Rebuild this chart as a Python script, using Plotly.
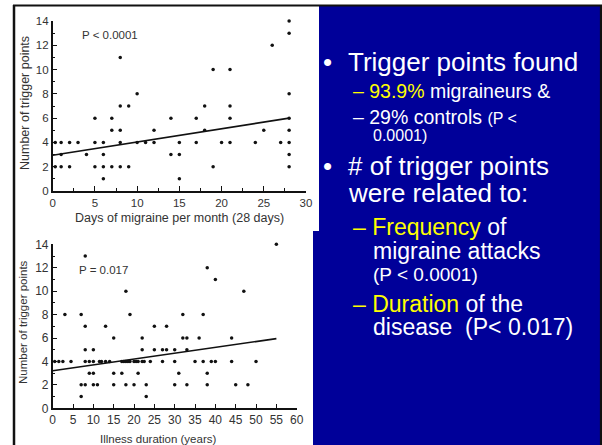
import plotly.graph_objects as go

W, H = 602, 445

# ---------------- data ----------------
# Top chart: days of migraine per month (28 days) vs number of trigger points
days_x = [0.3, 0.3, 1, 1, 1, 2, 2, 3, 4, 5, 5, 5, 6, 6, 6, 6, 7, 7, 7,
          8, 8, 8, 8, 8, 9, 9, 10, 10, 11, 12, 12, 14, 14, 15, 15, 15,
          17, 17, 18, 18, 19, 19, 20, 21, 21, 21, 21, 24, 25, 26, 27,
          28, 28, 28, 28, 28, 28, 28, 28]
days_y = [4, 2, 4, 3, 2, 4, 2, 4, 3, 6, 4, 2, 4, 3, 2, 1, 6, 5, 2,
          11, 7, 5, 4, 2, 7, 2, 8, 4, 4, 5, 4, 6, 3, 4, 3, 1,
          6, 4, 7, 5, 10, 2, 4, 10, 7, 6, 4, 4, 5, 12, 4,
          14, 13, 8, 6, 5, 4, 3, 2]
days_fit_x = [0, 28]
days_fit_y = [2.95, 6.0]

# Bottom chart: illness duration (years) vs number of trigger points
dur_x = [8, 18, 3, 7, 19, 8, 13, 25, 28, 15, 22,
         8, 10, 22, 25, 27, 28, 30, 33,
         0.5, 1.5, 2.5, 4.5, 8, 9, 10, 11.5, 12, 13, 14, 17, 17.5, 18, 18.5,
         19, 20, 20.5, 21, 22, 22.5, 24, 27, 30, 35, 37, 39, 40, 44, 50,
         9, 10, 15, 17, 21, 31, 38,
         7, 8, 10, 11, 15, 18, 20, 23, 30, 33, 38, 45, 48,
         7, 23,
         55, 38, 40, 47, 32, 37, 32, 33, 36, 44]
dur_y = [13, 10, 8, 8, 8, 7, 7, 7, 7, 6, 6,
         5, 5, 5, 5, 5, 5, 5, 5,
         4, 4, 4, 4, 4, 4, 4, 4, 4, 4, 4, 4, 4, 4, 4,
         4, 4, 4, 4, 4, 4, 4, 4, 4, 4, 4, 4, 4, 4, 4,
         3, 3, 3, 3, 3, 3, 3,
         2, 2, 2, 2, 2, 2, 2, 2, 2, 2, 2, 2, 2,
         1, 1,
         14, 12, 11, 10, 8, 8, 6, 6, 6, 6]
dur_fit_x = [0, 55]
dur_fit_y = [3.2, 5.95]

top_xticks = [0, 5, 10, 15, 20, 25, 30]
bot_xticks = [0, 5, 10, 15, 20, 25, 30, 35, 40, 45, 50, 55, 60]
yticks = [0, 2, 4, 6, 8, 10, 12, 14]

# ---------------- helpers ----------------
def fx(x):
    return x / W

def fy(y):
    return 1 - y / H

BLUE = "#000099"
YEL = "#FFFF00"
CHART_FONT = "Liberation Sans, Arial, sans-serif"
TXT = "#333333"

fig = go.Figure()

fig.add_trace(go.Scatter(x=days_x, y=days_y, mode="markers", xaxis="x", yaxis="y",
                         marker=dict(size=3.5, color="#111111"), cliponaxis=False,
                         showlegend=False))
fig.add_trace(go.Scatter(x=days_fit_x, y=days_fit_y, mode="lines", xaxis="x", yaxis="y",
                         line=dict(color="#111111", width=1.6), showlegend=False))
fig.add_trace(go.Scatter(x=dur_x, y=dur_y, mode="markers", xaxis="x2", yaxis="y2",
                         marker=dict(size=3.5, color="#111111"), cliponaxis=False,
                         showlegend=False))
fig.add_trace(go.Scatter(x=dur_fit_x, y=dur_fit_y, mode="lines", xaxis="x2", yaxis="y2",
                         line=dict(color="#111111", width=1.6), showlegend=False))

axis_common = dict(showgrid=False, zeroline=False, showline=True, linecolor="#111111",
                   linewidth=1.5, ticks="inside", ticklen=5, tickwidth=1.2, automargin=False,
                   tickcolor="#111111", tickfont=dict(family=CHART_FONT, size=11.5, color=TXT))

fig.update_layout(
    width=W, height=H,
    margin=dict(l=0, r=0, t=0, b=0, autoexpand=False),
    paper_bgcolor="white",
    plot_bgcolor="rgba(0,0,0,0)",
    showlegend=False,
    xaxis=dict(axis_common, domain=[fx(52.7), fx(306)], range=[0, 30], tickvals=top_xticks,
               minor=dict(dtick=2.5, ticks="inside", ticklen=3, tickcolor="#111111"),
               anchor="y"),
    yaxis=dict(axis_common, domain=[fy(191), fy(21)], range=[0, 14], tickvals=yticks,
               minor=dict(dtick=1, ticks="inside", ticklen=3, tickcolor="#111111"),
               anchor="x"),
    xaxis2=dict(axis_common, domain=[fx(52.7), fx(296.7)], range=[0, 60], tickvals=bot_xticks,
                tickfont=dict(family=CHART_FONT, size=12, color=TXT),
                anchor="y2"),
    yaxis2=dict(axis_common, domain=[fy(408.3), fy(244.3)], range=[0, 14], tickvals=yticks,
                tickfont=dict(family=CHART_FONT, size=12, color=TXT),
                minor=dict(dtick=1, ticks="inside", ticklen=3, tickcolor="#111111"),
                anchor="x2"),
)

shapes = [
    # blue slide area to the right of the two picture panels
    dict(type="rect", xref="paper", yref="paper", x0=fx(319), x1=1, y0=fy(233), y1=fy(6),
         fillcolor=BLUE, line_width=0, layer="above"),
    dict(type="rect", xref="paper", yref="paper", x0=fx(313), x1=1, y0=0, y1=fy(231),
         fillcolor=BLUE, line_width=0, layer="above"),
    # black frame lines
    dict(type="line", xref="paper", yref="paper", x0=fx(13), x1=1, y0=fy(5.5), y1=fy(5.5),
         line=dict(color="#111111", width=2.2), layer="above"),
    dict(type="line", xref="paper", yref="paper", x0=fx(14), x1=fx(14), y0=0, y1=fy(5),
         line=dict(color="#111111", width=2.5), layer="above"),
    dict(type="line", xref="paper", yref="paper", x0=fx(601), x1=fx(601), y0=0, y1=fy(5),
         line=dict(color="#111111", width=2.2), layer="above"),
]
fig.update_layout(shapes=shapes)

ann = []
def chart_text(text, x, y, size, angle=0):
    ann.append(dict(text=text, x=fx(x), y=fy(y), xref="paper", yref="paper",
                    xanchor="center", yanchor="middle", textangle=angle, showarrow=False,
                    borderpad=0, font=dict(family=CHART_FONT, size=size, color=TXT)))

# axis titles for the charts
chart_text("Number of trigger points", 25, 103, 12.5, -90)
chart_text("Days of migraine per month (28 days)", 179, 218, 12.5)
chart_text("Number of trigger points", 23, 322, 11.5, -90)
chart_text("Illness duration (years)", 158, 439, 11.5)

# p-values inside charts
ann.append(dict(text="P < 0.0001", x=3.3, y=12.85, xref="x", yref="y", xanchor="left",
                yanchor="middle", showarrow=False, borderpad=0,
                font=dict(family=CHART_FONT, size=11.5, color=TXT)))
ann.append(dict(text="P = 0.017", x=6.2, y=11.8, xref="x2", yref="y2", xanchor="left",
                yanchor="middle", showarrow=False, borderpad=0,
                font=dict(family=CHART_FONT, size=11.5, color=TXT)))

SF = "Liberation Sans, Arial, sans-serif"
def t(text, x, y, size):
    ann.append(dict(text=text, x=fx(x), y=fy(y), xref="paper", yref="paper", xanchor="left",
                    yanchor="middle", showarrow=False, borderpad=0,
                    font=dict(family=SF, size=size, color="white")))

def bullet(y, size):
    ann.append(dict(text="•", x=fx(327.5), y=fy(y), xref="paper", yref="paper", xanchor="center",
                    yanchor="middle", showarrow=False, borderpad=0,
                    font=dict(family=SF, size=size, color="white")))

def yel(s):
    return "<span style='color:%s'>%s</span>" % (YEL, s)

bullet(62, 26)
t("Trigger points found", 347, 62, 26)
t(yel("– 93.9%") + " migraineurs &", 352, 91.5, 19.5)
t("– 29% controls <span style='font-size:16px'>(P &lt;</span>", 352, 116.5, 19.5)
t("0.0001)", 372, 136, 16)
bullet(166, 26)
t("# of trigger points", 347, 166, 26)
t("were related to:", 347, 193.5, 26)
t(yel("– Frequency") + " of", 352, 226.5, 23)
t("migraine attacks", 372, 251.5, 23)
t("(P &lt; 0.0001)", 372, 274.5, 19)
t(yel("– Duration") + " of the", 352, 303.5, 23)
t("disease  (P&lt; 0.017)", 372, 326.5, 23)

fig.update_layout(annotations=ann)

fig.write_html("out.html")
